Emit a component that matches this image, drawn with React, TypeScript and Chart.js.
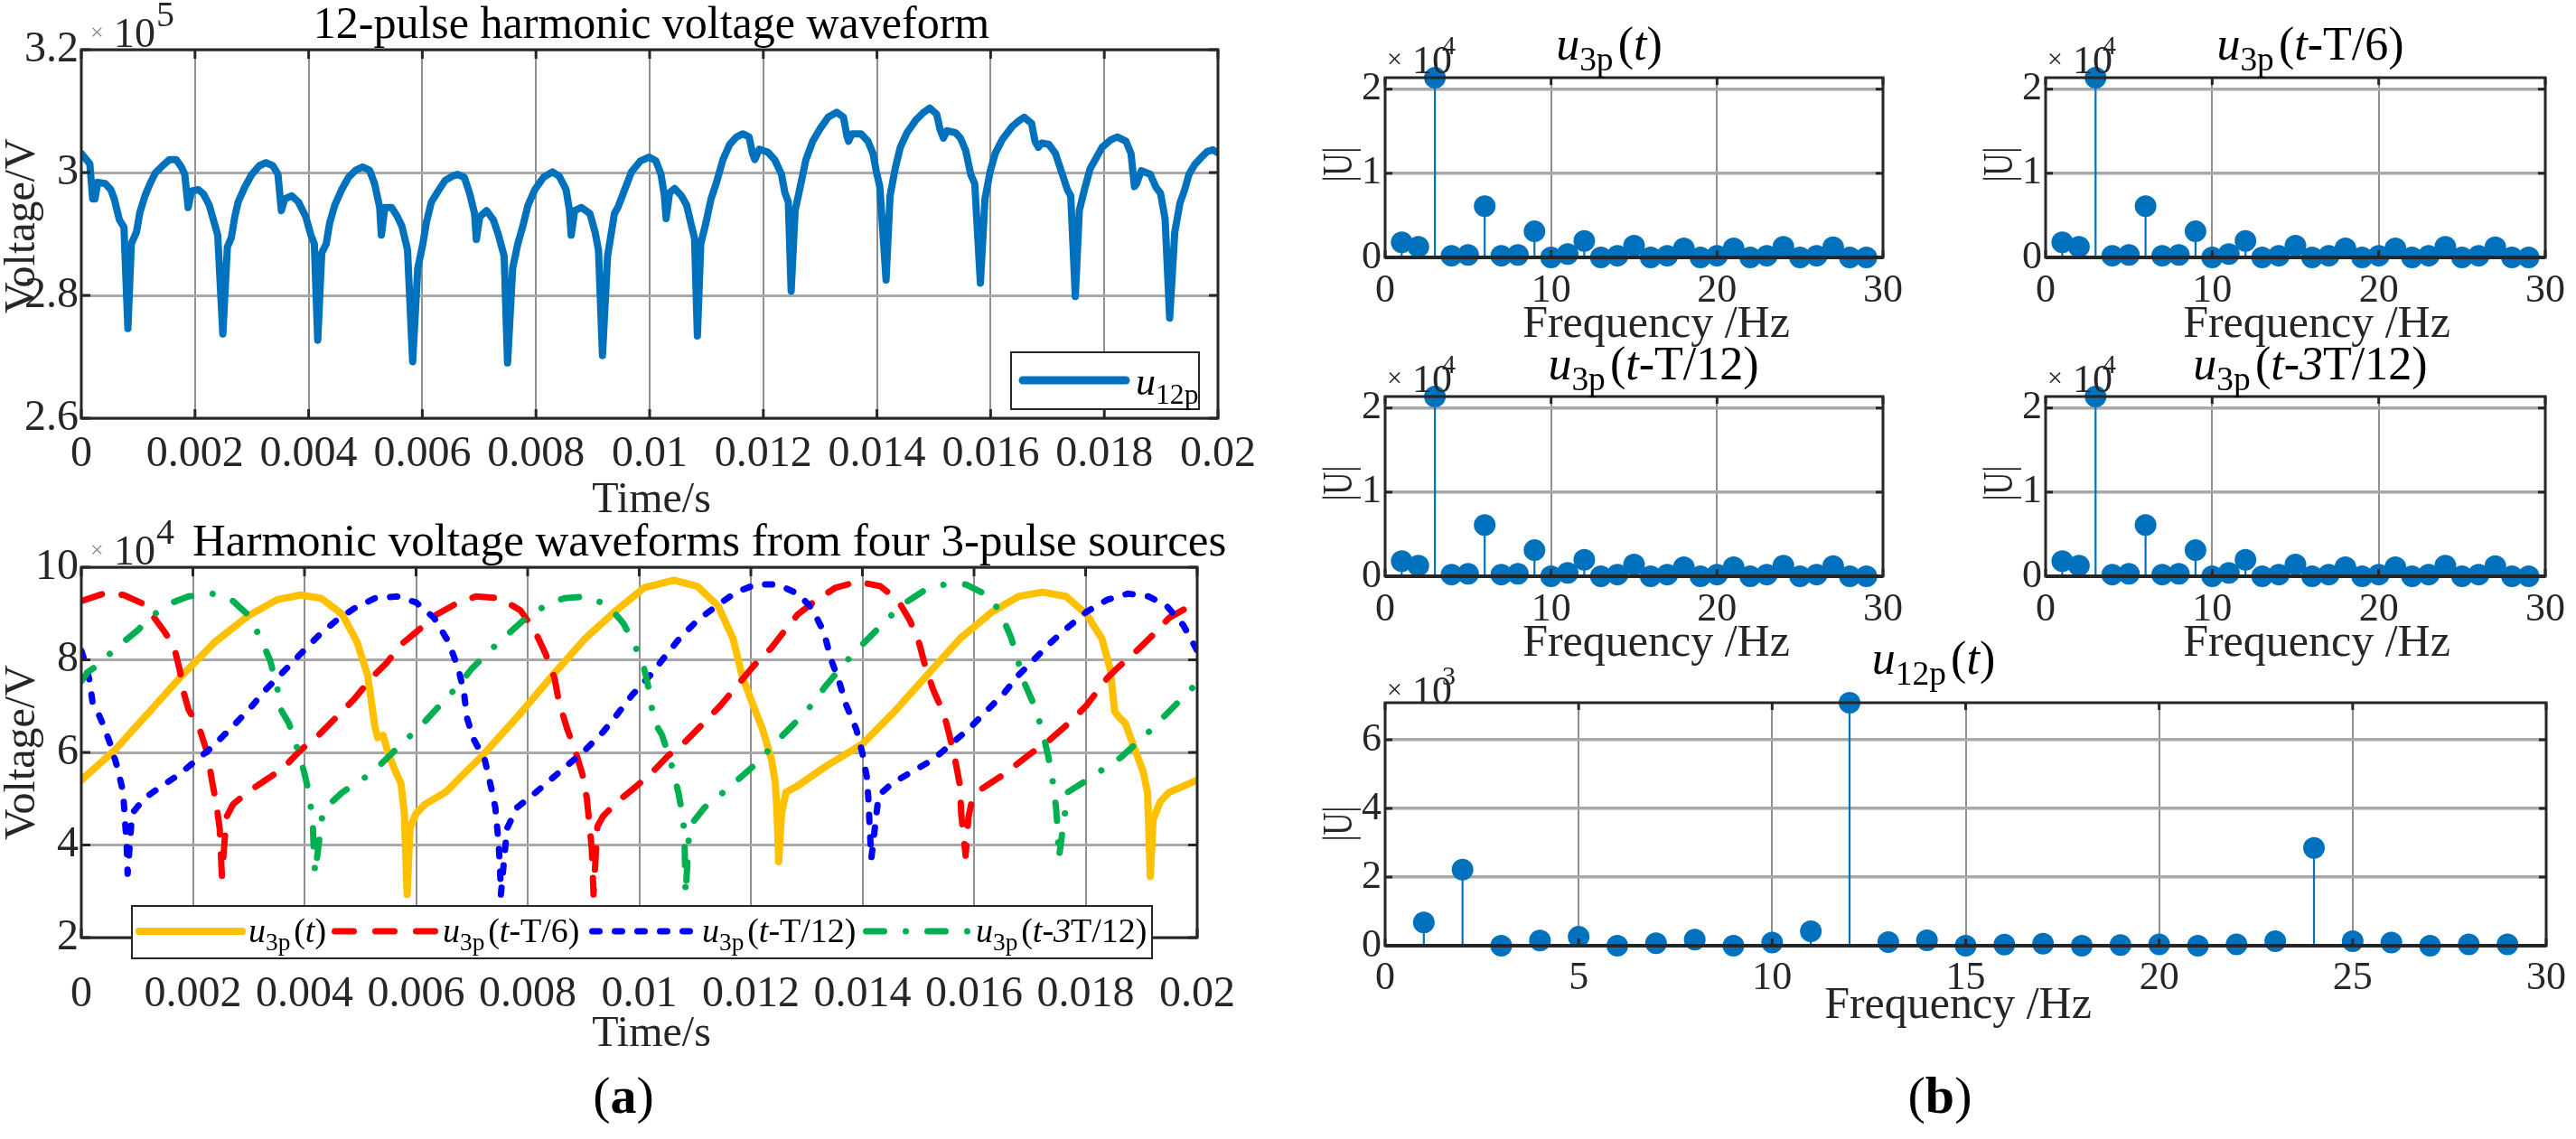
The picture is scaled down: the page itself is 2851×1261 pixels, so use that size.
import React, { useEffect, useRef } from "react";
import { Chart, registerables } from "chart.js";

Chart.register(...registerables);

const FONT = '"Liberation Serif", "Times New Roman", Times, serif';
const INK = "#262626";
const MATLAB_BLUE = "#0072BD";
const C_YELLOW = "#FFC000";
const C_RED = "#FF0000";
const C_BLUE = "#0000FF";
const C_GREEN = "#00B050";

// ---------------- (a) top : 12-pulse waveform  [time ms, voltage x1e5 V] ----------------
const timeTicks = [0, 0.002, 0.004, 0.006, 0.008, 0.01, 0.012, 0.014, 0.016, 0.018, 0.02];
const u12pVoltTicks = [2.6, 2.8, 3.0, 3.2];
const u12pWave: number[][] = [
  [0, 3.031], [0.09, 3.021], [0.15, 3.014], [0.2, 2.957], [0.24, 2.957], [0.29, 2.984], [0.42, 2.982], [0.52, 2.972], [0.58, 2.957], [0.67, 2.923], [0.75, 2.911], [0.82, 2.746], [0.88, 2.884], [0.97, 2.903], [1.03, 2.935], [1.12, 2.962], [1.21, 2.982], [1.3, 2.999], [1.43, 3.011], [1.55, 3.021], [1.67, 3.021], [1.76, 3.009], [1.82, 2.997], [1.88, 2.943], [1.94, 2.97], [2.06, 2.972], [2.15, 2.965], [2.25, 2.947], [2.34, 2.918], [2.4, 2.898], [2.49, 2.737], [2.57, 2.879], [2.64, 2.894], [2.7, 2.928], [2.76, 2.952], [2.88, 2.977], [3.0, 2.997], [3.13, 3.011], [3.25, 3.016], [3.37, 3.011], [3.46, 2.997], [3.52, 2.938], [3.58, 2.957], [3.7, 2.962], [3.82, 2.952], [3.95, 2.928], [4.04, 2.898], [4.1, 2.884], [4.16, 2.727], [4.23, 2.869], [4.31, 2.884], [4.37, 2.918], [4.46, 2.947], [4.58, 2.972], [4.7, 2.992], [4.83, 3.004], [4.95, 3.009], [5.07, 3.004], [5.16, 2.982], [5.25, 2.943], [5.28, 2.898], [5.34, 2.943], [5.46, 2.943], [5.55, 2.93], [5.64, 2.913], [5.74, 2.874], [5.83, 2.692], [5.92, 2.844], [6.01, 2.884], [6.07, 2.918], [6.16, 2.952], [6.28, 2.97], [6.4, 2.987], [6.53, 2.994], [6.62, 2.997], [6.74, 2.992], [6.83, 2.967], [6.92, 2.933], [6.95, 2.891], [7.01, 2.928], [7.13, 2.938], [7.25, 2.923], [7.34, 2.898], [7.44, 2.864], [7.5, 2.69], [7.59, 2.844], [7.68, 2.884], [7.77, 2.913], [7.86, 2.947], [7.98, 2.972], [8.13, 2.992], [8.29, 3.001], [8.41, 2.994], [8.53, 2.972], [8.59, 2.938], [8.62, 2.898], [8.68, 2.938], [8.8, 2.943], [8.95, 2.933], [9.04, 2.903], [9.1, 2.874], [9.17, 2.702], [9.26, 2.864], [9.38, 2.933], [9.44, 2.943], [9.56, 2.972], [9.68, 3.001], [9.84, 3.019], [9.99, 3.025], [10.11, 3.019], [10.2, 2.997], [10.26, 2.962], [10.29, 2.925], [10.35, 2.967], [10.44, 2.974], [10.56, 2.962], [10.65, 2.947], [10.75, 2.908], [10.79, 2.893], [10.84, 2.734], [10.9, 2.884], [10.99, 2.918], [11.08, 2.957], [11.17, 2.982], [11.29, 3.021], [11.41, 3.046], [11.53, 3.058], [11.64, 3.063], [11.75, 3.058], [11.81, 3.031], [11.85, 3.021], [11.93, 3.038], [12.08, 3.033], [12.2, 3.021], [12.32, 2.997], [12.38, 2.967], [12.44, 2.952], [12.49, 2.807], [12.56, 2.938], [12.65, 2.977], [12.75, 3.021], [12.87, 3.051], [12.99, 3.07], [13.14, 3.09], [13.29, 3.098], [13.41, 3.09], [13.47, 3.06], [13.5, 3.051], [13.56, 3.063], [13.72, 3.063], [13.84, 3.051], [13.93, 3.031], [13.99, 3.001], [14.05, 2.977], [14.16, 2.825], [14.23, 2.962], [14.32, 3.006], [14.41, 3.041], [14.53, 3.065], [14.68, 3.085], [14.81, 3.097], [14.93, 3.105], [15.05, 3.095], [15.11, 3.07], [15.17, 3.056], [15.23, 3.068], [15.38, 3.065], [15.47, 3.056], [15.56, 3.036], [15.65, 2.997], [15.72, 2.982], [15.82, 2.82], [15.9, 2.957], [15.99, 3.001], [16.08, 3.031], [16.2, 3.053], [16.38, 3.075], [16.51, 3.085], [16.59, 3.09], [16.72, 3.08], [16.78, 3.051], [16.84, 3.041], [16.9, 3.048], [17.02, 3.046], [17.14, 3.031], [17.23, 3.006], [17.35, 2.972], [17.41, 2.962], [17.49, 2.798], [17.56, 2.938], [17.65, 2.972], [17.75, 3.006], [17.84, 3.021], [17.96, 3.041], [18.11, 3.053], [18.23, 3.058], [18.38, 3.051], [18.47, 3.031], [18.53, 2.977], [18.57, 2.982], [18.65, 3.003], [18.81, 2.997], [18.91, 2.976], [18.99, 2.966], [19.07, 2.924], [19.15, 2.763], [19.24, 2.903], [19.33, 2.95], [19.41, 2.971], [19.49, 2.997], [19.59, 3.013], [19.7, 3.024], [19.81, 3.034], [19.91, 3.037], [20.0, 3.032],
];

// ---------------- (a) bottom : four 3-pulse sources  [time ms, voltage x1e4 V] ----------------
const u3pVoltTicks = [2, 4, 6, 8, 10];
const u3pWave: number[][] = [
  [0, 5.4], [0.6, 6.05], [1.23, 6.89], [1.81, 7.67], [2.4, 8.39], [2.98, 8.94], [3.51, 9.3], [3.93, 9.4], [4.3, 9.33], [4.68, 8.98], [4.94, 8.39], [5.13, 7.67], [5.2, 7.09], [5.26, 6.57], [5.31, 6.32], [5.41, 6.37], [5.5, 5.98], [5.63, 5.59], [5.73, 5.33], [5.79, 4.68], [5.84, 2.93], [5.89, 4.36], [6.0, 4.68], [6.16, 4.88], [6.53, 5.14], [6.9, 5.59], [7.18, 5.92], [7.81, 6.76], [8.45, 7.67], [9.03, 8.46], [9.56, 9.04], [10.09, 9.56], [10.62, 9.72], [11.04, 9.59], [11.41, 9.17], [11.68, 8.46], [11.84, 7.67], [12.0, 7.15], [12.21, 6.5], [12.37, 5.85], [12.44, 5.33], [12.47, 4.68], [12.5, 3.64], [12.55, 4.68], [12.63, 5.14], [12.84, 5.28], [13.37, 5.72], [14.0, 6.18], [14.58, 6.89], [15.16, 7.67], [15.75, 8.46], [16.33, 9.04], [16.8, 9.37], [17.23, 9.46], [17.65, 9.37], [18.02, 8.98], [18.29, 8.46], [18.44, 7.8], [18.52, 6.89], [18.6, 6.76], [18.71, 6.63], [18.87, 6.11], [19.03, 5.59], [19.11, 5.14], [19.16, 3.32], [19.21, 4.55], [19.34, 4.94], [19.5, 5.14], [20.0, 5.4],
];
const u3pT6Wave: number[][] = [
  [0, 9.27], [0.4, 9.43], [0.76, 9.4], [1.13, 9.2], [1.5, 8.59], [1.66, 8.29], [1.76, 7.8], [1.84, 7.28], [1.92, 6.93], [2.13, 6.47], [2.26, 5.98], [2.34, 5.4], [2.42, 4.88], [2.48, 4.36], [2.52, 3.32], [2.6, 4.6], [2.72, 4.88], [2.98, 5.14], [3.3, 5.4], [3.62, 5.66], [3.93, 6.05], [4.25, 6.37], [4.57, 6.76], [4.89, 7.15], [5.2, 7.61], [5.47, 7.93], [5.73, 8.33], [6.05, 8.65], [6.37, 8.98], [6.7, 9.2], [7.07, 9.37], [7.5, 9.33], [7.87, 9.07], [8.13, 8.62], [8.32, 8.13], [8.48, 7.61], [8.56, 7.09], [8.71, 6.5], [8.85, 6.05], [8.98, 5.53], [9.06, 5.01], [9.11, 4.42], [9.15, 3.9], [9.18, 2.93], [9.25, 4.4], [9.35, 4.62], [9.61, 4.94], [9.88, 5.2], [10.2, 5.53], [10.51, 5.92], [10.83, 6.24], [11.15, 6.63], [11.46, 7.02], [11.78, 7.48], [12.05, 7.87], [12.37, 8.26], [12.58, 8.59], [12.84, 8.98], [13.15, 9.27], [13.52, 9.56], [13.92, 9.69], [14.32, 9.59], [14.63, 9.3], [14.85, 8.85], [15.01, 8.39], [15.14, 7.8], [15.27, 7.35], [15.46, 6.83], [15.56, 6.37], [15.67, 5.79], [15.75, 5.27], [15.77, 4.68], [15.85, 3.77], [15.9, 4.6], [15.96, 4.94], [16.12, 5.2], [16.54, 5.53], [17.02, 5.98], [17.33, 6.24], [17.76, 6.7], [18.02, 7.02], [18.39, 7.61], [18.55, 7.8], [18.92, 8.2], [19.19, 8.52], [19.5, 8.91], [20.0, 9.25],
];
const u3pT12Wave: number[][] = [
  [0, 8.2], [0.07, 7.93], [0.15, 7.54], [0.2, 7.09], [0.31, 6.83], [0.38, 6.63], [0.52, 6.18], [0.65, 5.66], [0.75, 5.14], [0.78, 4.55], [0.81, 4.1], [0.83, 3.38], [0.91, 4.68], [1.13, 5.01], [1.44, 5.27], [1.76, 5.53], [2.08, 5.85], [2.34, 6.11], [2.72, 6.57], [3.03, 6.96], [3.3, 7.35], [3.62, 7.74], [3.93, 8.13], [4.25, 8.52], [4.57, 8.85], [4.89, 9.11], [5.26, 9.33], [5.66, 9.37], [6.0, 9.24], [6.32, 8.91], [6.58, 8.39], [6.76, 7.8], [6.86, 7.28], [6.91, 6.76], [7.02, 6.31], [7.23, 5.85], [7.34, 5.27], [7.42, 4.81], [7.47, 4.16], [7.5, 3.64], [7.52, 2.93], [7.63, 4.36], [7.81, 4.81], [8.08, 5.07], [8.4, 5.4], [8.71, 5.72], [9.03, 6.05], [9.35, 6.44], [9.61, 6.83], [9.88, 7.25], [10.2, 7.67], [10.46, 8.07], [10.72, 8.46], [11.04, 8.85], [11.36, 9.14], [11.73, 9.46], [12.1, 9.63], [12.47, 9.63], [12.84, 9.43], [13.1, 9.11], [13.31, 8.59], [13.44, 8.0], [13.58, 7.54], [13.71, 7.02], [13.89, 6.5], [14.0, 5.98], [14.08, 5.46], [14.11, 4.94], [14.13, 4.36], [14.16, 3.71], [14.29, 5.07], [14.53, 5.33], [14.9, 5.59], [15.27, 5.85], [15.59, 6.18], [15.9, 6.5], [16.22, 6.89], [16.54, 7.28], [16.8, 7.67], [17.07, 8.0], [17.39, 8.39], [17.7, 8.72], [18.02, 9.04], [18.39, 9.3], [18.76, 9.43], [19.13, 9.37], [19.45, 9.17], [19.75, 8.75], [20.0, 8.2],
];
const u3p3T12Wave: number[][] = [
  [0, 7.54], [0.12, 7.74], [0.28, 7.87], [0.6, 8.23], [1.02, 8.65], [1.23, 8.91], [1.55, 9.2], [1.92, 9.37], [2.34, 9.43], [2.69, 9.3], [2.98, 8.98], [3.19, 8.52], [3.38, 8.0], [3.51, 7.41], [3.56, 6.96], [3.72, 6.63], [3.88, 6.05], [3.99, 5.59], [4.09, 5.07], [4.15, 4.42], [4.17, 3.77], [4.19, 3.38], [4.33, 4.75], [4.68, 5.14], [5.21, 5.56], [5.68, 6.11], [6.13, 6.63], [6.58, 7.22], [6.79, 7.48], [6.99, 7.8], [7.44, 8.33], [7.92, 8.85], [8.4, 9.24], [8.66, 9.33], [9.06, 9.37], [9.45, 9.17], [9.72, 8.78], [9.93, 8.29], [10.09, 7.8], [10.2, 7.22], [10.25, 6.7], [10.41, 6.37], [10.59, 5.69], [10.7, 5.14], [10.78, 4.62], [10.81, 4.2], [10.83, 2.93], [10.9, 4.4], [11.17, 4.81], [11.57, 5.2], [12.1, 5.76], [12.52, 6.31], [13.0, 6.89], [13.37, 7.48], [13.81, 8.1], [14.26, 8.65], [14.69, 9.17], [15.11, 9.5], [15.48, 9.63], [15.85, 9.63], [16.28, 9.37], [16.49, 8.98], [16.67, 8.46], [16.8, 7.93], [16.91, 7.48], [17.1, 6.96], [17.23, 6.44], [17.33, 5.92], [17.41, 5.38], [17.47, 4.81], [17.5, 4.29], [17.52, 3.71], [17.68, 5.14], [18.02, 5.4], [18.63, 5.89], [19.13, 6.44], [19.5, 6.89], [20.0, 7.5],
];

// ---------------- (b) spectra ----------------
const harmonicOrder = [1, 2, 3, 4, 5, 6, 7, 8, 9, 10, 11, 12, 13, 14, 15, 16, 17, 18, 19, 20, 21, 22, 23, 24, 25, 26, 27, 28, 29];
// |U| x1e4
const specU3pT = [0.18, 0.125, 2.136, 0.02, 0.03, 0.61, 0.02, 0.03, 0.31, 0.0, 0.04, 0.196, 0.0, 0.02, 0.14, 0.0, 0.02, 0.107, 0.0, 0.02, 0.107, 0.0, 0.02, 0.125, 0.0, 0.02, 0.12, 0.0, 0.0];
const specU3pT6 = [0.18, 0.125, 2.136, 0.02, 0.03, 0.61, 0.02, 0.03, 0.31, 0.0, 0.04, 0.196, 0.0, 0.02, 0.14, 0.0, 0.02, 0.107, 0.0, 0.02, 0.107, 0.0, 0.02, 0.125, 0.0, 0.02, 0.12, 0.0, 0.0];
const specU3pT12 = [0.18, 0.125, 2.136, 0.02, 0.03, 0.61, 0.02, 0.03, 0.31, 0.0, 0.04, 0.196, 0.0, 0.02, 0.14, 0.0, 0.02, 0.107, 0.0, 0.02, 0.107, 0.0, 0.02, 0.125, 0.0, 0.02, 0.12, 0.0, 0.0];
const specU3p3T12 = [0.18, 0.125, 2.136, 0.02, 0.03, 0.61, 0.02, 0.03, 0.31, 0.0, 0.04, 0.196, 0.0, 0.02, 0.14, 0.0, 0.02, 0.107, 0.0, 0.02, 0.107, 0.0, 0.02, 0.125, 0.0, 0.02, 0.12, 0.0, 0.0];
// |U| x1e3
const specU12p = [0.68, 2.22, 0.0, 0.15, 0.26, 0.0, 0.07, 0.18, 0.0, 0.09, 0.42, 7.08, 0.105, 0.16, 0.0, 0.03, 0.06, 0.0, 0.02, 0.04, 0.0, 0.04, 0.13, 2.85, 0.13, 0.09, 0.0, 0.04, 0.04];
const freqTicks3p = [0, 10, 20, 30];
const freqTicks12p = [0, 5, 10, 15, 20, 25, 30];
const magTicks3p = [0, 1, 2];
const magTicks12p = [0, 2, 4, 6];

// ---------------- helpers ----------------
const waveToXY = (w: number[][]) => w.map(([ms, v]) => ({ x: ms / 1000, y: v }));
const fmtTime = (v: number) => String(Number(v.toFixed(3)));
const fmt1 = (v: number) => String(Number(v.toFixed(1)));
const fmtInt = (v: number) => String(Math.round(v));

function waveDataset(w: number[][], color: string, width: number, dash: number[]) {
  return {
    data: waveToXY(w),
    borderColor: color,
    borderWidth: width,
    borderDash: dash,
    borderCapStyle: "round",
    borderJoinStyle: "round",
    pointRadius: 0,
    tension: 0,
    fill: false,
  };
}

function stemDatasets(orders: number[], mags: number[]) {
  const segs: any[] = [];
  orders.forEach((f, i) => {
    segs.push({ x: f, y: 0 }, { x: f, y: mags[i] }, { x: f, y: null });
  });
  return [
    {
      data: orders.map((f, i) => ({ x: f, y: mags[i] })),
      showLine: false,
      pointRadius: 12,
      pointBackgroundColor: MATLAB_BLUE,
      pointBorderWidth: 0,
      clip: false,
    },
    {
      data: segs,
      borderColor: MATLAB_BLUE,
      borderWidth: 2.2,
      pointRadius: 0,
      spanGaps: false,
      clip: false,
    },
  ];
}

function PlotCanvas({ spec }: { spec: any }) {
  const ref = useRef<HTMLCanvasElement>(null);
  const { area, margin } = spec;
  const w = area.width + margin.l + margin.r;
  const h = area.height + margin.t + margin.b;
  useEffect(() => {
    const boxPlugin = {
      id: "matlabBox",
      afterDatasetsDraw(chart: any) {
        const { ctx, chartArea: a, scales } = chart;
        ctx.save();
        ctx.strokeStyle = INK;
        ctx.lineCap = "butt";
        const seg = (x1: number, y1: number, x2: number, y2: number, lw: number) => {
          ctx.lineWidth = lw;
          ctx.beginPath();
          ctx.moveTo(x1, y1);
          ctx.lineTo(x2, y2);
          ctx.stroke();
        };
        const tl = spec.tickLen;
        spec.x.ticks.forEach((v: number) => {
          const px = scales.x.getPixelForValue(v);
          seg(px, a.bottom, px, a.bottom - tl, 3);
          seg(px, a.top, px, a.top + tl, 3);
        });
        spec.y.ticks.forEach((v: number) => {
          const py = scales.y.getPixelForValue(v);
          seg(a.left, py, a.left + tl, py, 3);
          seg(a.right, py, a.right - tl, py, 3);
        });
        ctx.lineWidth = spec.boxWidth;
        ctx.strokeRect(a.left, a.top, a.right - a.left, a.bottom - a.top);
        if (spec.baseWidth) seg(a.left, a.bottom, a.right, a.bottom, spec.baseWidth);
        ctx.restore();
      },
    };
    const axis = (ax: any, isX: boolean) => ({
      type: "linear",
      min: ax.min,
      max: ax.max,
      afterBuildTicks: (s: any) => {
        s.ticks = ax.ticks.map((v: number) => ({ value: v }));
      },
      afterFit: (s: any) => {
        if (isX) s.height = margin.b;
        else s.width = margin.l;
      },
      grid: { color: ax.gridColor, lineWidth: ax.gridWidth, drawTicks: false },
      border: { display: false },
      ticks: {
        autoSkip: false,
        maxRotation: 0,
        minRotation: 0,
        padding: ax.pad,
        color: INK,
        font: { family: FONT, size: spec.fontSize },
        callback: (v: any) => ax.fmt(Number(v)),
      },
    });
    const chart = new Chart(ref.current as HTMLCanvasElement, {
      type: "line",
      data: { datasets: spec.datasets },
      options: {
        responsive: false,
        animation: false,
        devicePixelRatio: 1,
        events: [],
        layout: { padding: { left: 0, top: margin.t, right: margin.r, bottom: 0 } },
        plugins: { legend: { display: false }, tooltip: { enabled: false }, title: { display: false } },
        scales: { x: axis(spec.x, true), y: axis(spec.y, false) },
      } as any,
      plugins: [boxPlugin as any],
    } as any);
    return () => chart.destroy();
  }, []);
  return (
    <canvas
      ref={ref}
      width={w}
      height={h}
      style={{ position: "absolute", left: area.left - margin.l, top: area.top - margin.t, width: w, height: h, display: "block" }}
    />
  );
}

// ---------------- plot specs ----------------
const GRID_V = "#8f8f8f";
const GRID_H = "#a8a8a8";

const leftX = (pad: number) => ({ min: 0, max: 0.02, ticks: timeTicks, fmt: fmtTime, pad, gridColor: GRID_V, gridWidth: 2 });

const plotTop = {
  area: { left: 90, top: 55, width: 1262, height: 408 },
  margin: { l: 80, t: 34, r: 50, b: 80 },
  fontSize: 48,
  tickLen: 10,
  boxWidth: 3,
  x: leftX(12),
  y: { min: 2.6, max: 3.2, ticks: u12pVoltTicks, fmt: fmt1, pad: 3, gridColor: GRID_H, gridWidth: 3 },
  datasets: [waveDataset(u12pWave, MATLAB_BLUE, 8, [])],
};

const plotBottom = {
  area: { left: 90, top: 628, width: 1262, height: 410 },
  margin: { l: 80, t: 34, r: 50, b: 100 },
  fontSize: 48,
  tickLen: 10,
  boxWidth: 3,
  x: leftX(35),
  y: { min: 2, max: 10, ticks: u3pVoltTicks, fmt: fmtInt, pad: 3, gridColor: GRID_H, gridWidth: 3 },
  datasets: [
    waveDataset(u3p3T12Wave, C_GREEN, 7, [20, 24, 0.01, 24]),
    waveDataset(u3pT12Wave, C_BLUE, 7, [8, 17]),
    waveDataset(u3pT6Wave, C_RED, 7, [24, 22]),
    waveDataset(u3pWave, C_YELLOW, 8, []),
  ],
};

function stemSpec(left: number, top: number, width: number, height: number, mags: number[], xt: number[], yt: number[], xpad: number) {
  return {
    area: { left, top, width, height },
    margin: { l: 60, t: 34, r: 30, b: 60 },
    fontSize: 44,
    tickLen: 8,
    boxWidth: 3,
    baseWidth: 4,
    x: { min: 0, max: 30, ticks: xt, fmt: fmtInt, pad: xpad, gridColor: GRID_V, gridWidth: 2 },
    y: { min: 0, max: Math.max(...mags), ticks: yt, fmt: fmtInt, pad: 4, gridColor: GRID_H, gridWidth: 3.5 },
    datasets: stemDatasets(harmonicOrder, mags),
  };
}

const S1 = { left: 1533, top: 86, width: 554, height: 199 };
const S2 = { left: 2264, top: 86, width: 556, height: 199 };
const S3 = { left: 1533, top: 439, width: 554, height: 199 };
const S4 = { left: 2264, top: 439, width: 556, height: 199 };
const S5 = { left: 1533, top: 778, width: 1287, height: 269 };

const plots = [
  plotTop,
  plotBottom,
  stemSpec(S1.left, S1.top, S1.width, S1.height, specU3pT, freqTicks3p, magTicks3p, 11),
  stemSpec(S2.left, S2.top, S2.width, S2.height, specU3pT6, freqTicks3p, magTicks3p, 11),
  stemSpec(S3.left, S3.top, S3.width, S3.height, specU3pT12, freqTicks3p, magTicks3p, 11),
  stemSpec(S4.left, S4.top, S4.width, S4.height, specU3p3T12, freqTicks3p, magTicks3p, 11),
  stemSpec(S5.left, S5.top, S5.width, S5.height, specU12p, freqTicks12p, magTicks12p, 10),
];

// ---------------- text helpers ----------------
function Txt({ x, y, size, align = "left", color = "#000", children }: any) {
  const tr = align === "center" ? "translateX(-50%)" : align === "right" ? "translateX(-100%)" : "none";
  return (
    <div
      style={{
        position: "absolute",
        left: x,
        top: y - 0.8375 * size,
        fontFamily: FONT,
        fontSize: size,
        lineHeight: `${size}px`,
        whiteSpace: "nowrap",
        color,
        transform: tr,
      }}
    >
      {children}
    </div>
  );
}

function VTxt({ cx, cy, size, scaleX = 1, children }: any) {
  return (
    <div
      style={{
        position: "absolute",
        left: cx,
        top: cy,
        fontFamily: FONT,
        fontSize: size,
        lineHeight: `${size}px`,
        whiteSpace: "nowrap",
        color: INK,
        transform: `translate(-50%, -50%) rotate(-90deg) scaleX(${scaleX})`,
      }}
    >
      {children}
    </div>
  );
}

const Sub = ({ children }: any) => (
  <span style={{ fontSize: "0.72em", position: "relative", top: "0.32em", lineHeight: 0 }}>{children}</span>
);

const uLabel = (sub: string, arg: any) => (
  <>
    <i>u</i>
    <Sub>{sub}</Sub>
    <span style={{ marginLeft: "0.1em" }}>(</span>
    {arg})
  </>
);

function Expo({ left, top, exp, big }: any) {
  if (big) {
    return (
      <>
        <Txt x={left + 10} y={top - 10} size={26} color="#8a8a8a">×</Txt>
        <Txt x={left + 36} y={top - 2} size={46} color={INK}>10</Txt>
        <Txt x={left + 83} y={top - 26} size={40} color={INK}>{exp}</Txt>
      </>
    );
  }
  return (
    <>
      <Txt x={left + 2} y={top - 11} size={30} color={INK}>×</Txt>
      <Txt x={left + 30} y={top - 4} size={44} color={INK}>10</Txt>
      <Txt x={left + 63} y={top - 26} size={30} color={INK}>{exp}</Txt>
    </>
  );
}

export default function App() {
  useEffect(() => {
    document.body.style.margin = "0";
    document.body.style.overflow = "hidden";
  }, []);

  const stemAreas = [S1, S2, S3, S4];
  return (
    <div style={{ position: "absolute", left: 0, top: 0, width: 2851, height: 1261, overflow: "hidden", background: "#fff" }}>
      {plots.map((p, i) => (
        <PlotCanvas key={i} spec={p} />
      ))}

      {/* legend boxes */}
      <div style={{ position: "absolute", left: 1118, top: 389, width: 210, height: 65, border: `2px solid ${INK}`, background: "#fff", boxSizing: "border-box" }} />
      <div style={{ position: "absolute", left: 145, top: 1002, width: 1131, height: 60, border: `2px solid ${INK}`, background: "#fff", boxSizing: "border-box" }} />
      <svg width={2851} height={1261} style={{ position: "absolute", left: 0, top: 0 }}>
        <line x1={1132} y1={421} x2={1246} y2={421} stroke={MATLAB_BLUE} strokeWidth={9} strokeLinecap="round" />
        <line x1={154} y1={1031} x2={268} y2={1031} stroke={C_YELLOW} strokeWidth={8} strokeLinecap="round" />
        <line x1={370.5} y1={1031} x2={483} y2={1031} stroke={C_RED} strokeWidth={7} strokeLinecap="round" strokeDasharray="21 24" />
        <line x1={655.5} y1={1031} x2={767} y2={1031} stroke={C_BLUE} strokeWidth={7} strokeLinecap="round" strokeDasharray="8 17" />
        <line x1={958.5} y1={1031} x2={1072} y2={1031} stroke={C_GREEN} strokeWidth={7} strokeLinecap="round" strokeDasharray="20 24 0.01 24" />
      </svg>

      {/* (a) top */}
      <Txt x={721} y={42} size={50} align="center">12-pulse harmonic voltage waveform</Txt>
      <Expo left={90} top={55} exp="5" big />
      <VTxt cx={22} cy={250} size={48}>Voltage/V</VTxt>
      <Txt x={721} y={567} size={48} align="center" color={INK}>Time/s</Txt>
      <Txt x={1257} y={438} size={44}>
        <i>u</i>
        <Sub>12p</Sub>
      </Txt>

      {/* (a) bottom */}
      <Txt x={213} y={616} size={51}>Harmonic voltage waveforms from four 3-pulse sources</Txt>
      <Expo left={90} top={628} exp="4" big />
      <VTxt cx={22} cy={833} size={48}>Voltage/V</VTxt>
      <Txt x={721} y={1158} size={48} align="center" color={INK}>Time/s</Txt>
      <Txt x={275} y={1043} size={38}>{uLabel("3p", <i>t</i>)}</Txt>
      <Txt x={490} y={1043} size={38}>{uLabel("3p", <><i>t</i>-T/6</>)}</Txt>
      <Txt x={777} y={1043} size={38}>{uLabel("3p", <><i>t</i>-T/12</>)}</Txt>
      <Txt x={1080} y={1043} size={38}>{uLabel("3p", <><i>t</i>-<i>3</i>T/12</>)}</Txt>
      <Txt x={690} y={1233} size={58} align="center">
        (<b>a</b>)
      </Txt>

      {/* (b) titles */}
      <Txt x={1781} y={67} size={52} align="center">{uLabel("3p", <i>t</i>)}</Txt>
      <Txt x={2557} y={67} size={52} align="center">{uLabel("3p", <><i>t</i>-T/6</>)}</Txt>
      <Txt x={1830} y={421} size={52} align="center">{uLabel("3p", <><i>t</i>-T/12</>)}</Txt>
      <Txt x={2557} y={421} size={52} align="center">{uLabel("3p", <><i>t</i>-<i>3</i>T/12</>)}</Txt>
      <Txt x={2140} y={747} size={52} align="center">{uLabel("12p", <i>t</i>)}</Txt>

      {stemAreas.map((s, i) => (
        <React.Fragment key={i}>
          <Expo left={s.left} top={s.top} exp="4" />
          <VTxt cx={s.left - 52} cy={s.top + s.height / 2 - 4} size={46} scaleX={0.75}>|U|</VTxt>
          <Txt x={s.left + 300} y={s.top + 287} size={50} align="center" color={INK}>Frequency /Hz</Txt>
        </React.Fragment>
      ))}
      <Expo left={S5.left} top={S5.top + 6} exp="3" />
      <VTxt cx={S5.left - 52} cy={S5.top + S5.height / 2 - 1} size={46} scaleX={0.75}>|U|</VTxt>
      <Txt x={2167} y={1127} size={50} align="center" color={INK}>Frequency /Hz</Txt>
      <Txt x={2147} y={1233} size={58} align="center">
        (<b>b</b>)
      </Txt>
    </div>
  );
}
